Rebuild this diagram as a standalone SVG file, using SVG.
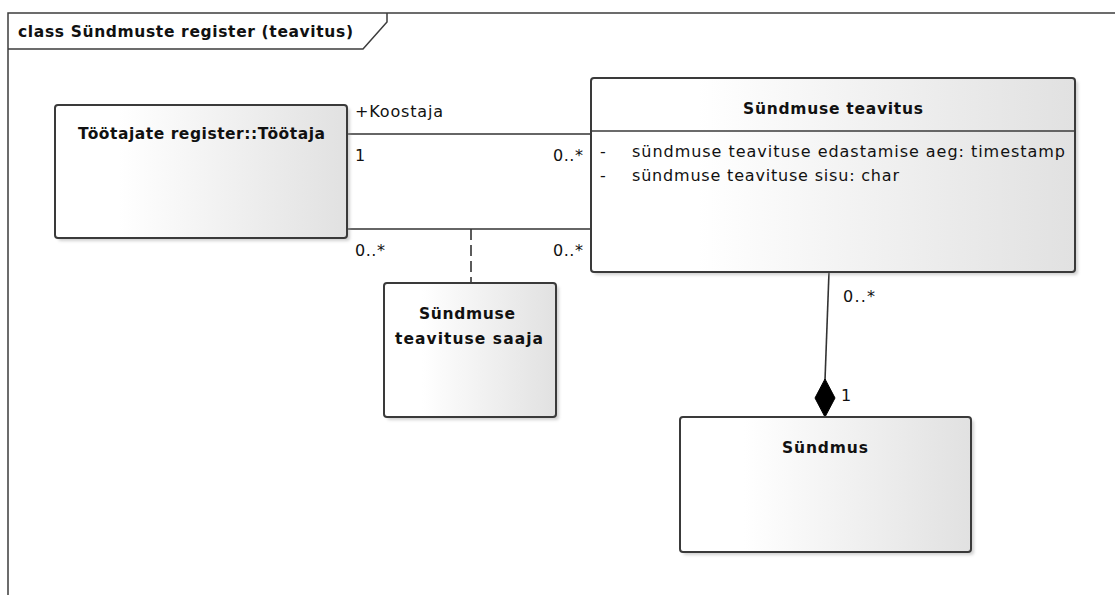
<svg xmlns="http://www.w3.org/2000/svg" width="1115" height="595" viewBox="0 0 1115 595">
  <style>
    .frame { fill: none; stroke: #3c3c3c; stroke-width: 1.5; }
    .box { stroke: #3a3a3a; stroke-width: 2; fill: url(#boxFill); }
    .shadow { fill: #9a9a9a; opacity: 0.45; filter: url(#soft); }
    .sep { stroke: #3a3a3a; stroke-width: 1.5; }
    .conn { fill: none; stroke: #333333; stroke-width: 1.6; }
    .dash { stroke-dasharray: 11 5; }
    .t { font-family: "DejaVu Sans", Verdana, sans-serif; font-size: 16px; fill: #111111; }
    .b { font-weight: bold; font-size: 15.5px; }
  </style>
  <defs>
    <linearGradient id="boxFill" x1="0" y1="0" x2="1" y2="0">
      <stop offset="0" stop-color="#ffffff"/>
      <stop offset="0.22" stop-color="#ffffff"/>
      <stop offset="1" stop-color="#e1e1e1"/>
    </linearGradient>
    <filter id="soft" x="-10%" y="-10%" width="120%" height="120%">
      <feGaussianBlur stdDeviation="1.5"/>
    </filter>
  </defs>

  <rect width="1115" height="595" fill="#ffffff"/>

  <!-- diagram frame with title tab -->
  <g id="frame">
    <path class="frame" d="M8,595 L8,13 L1115,13"/>
    <path class="frame" d="M8,49 L363,49 L387,22 L387,13"/>
    <text class="t b" x="18" y="37" textLength="335" lengthAdjust="spacing">class Sündmuste register (teavitus)</text>
  </g>

  <!-- connectors -->
  <g id="connectors">
    <!-- Koostaja association -->
    <line class="conn" x1="347" y1="134" x2="591" y2="134"/>
    <!-- recipient association -->
    <line class="conn" x1="347" y1="229" x2="591" y2="229"/>
    <!-- association class link -->
    <line class="conn dash" x1="471" y1="229" x2="471" y2="283"/>
    <!-- composition to Sündmus -->
    <line class="conn" x1="829" y1="272" x2="825" y2="380"/>
    <polygon points="825,379 835,398 825,417 815,398" fill="#000000" stroke="#000000" stroke-width="1"/>

    <text class="t" x="355" y="117" textLength="88" lengthAdjust="spacing">+Koostaja</text>
    <text class="t" x="355" y="161">1</text>
    <text class="t" x="553" y="161" textLength="30" lengthAdjust="spacing">0..*</text>
    <text class="t" x="355" y="256" textLength="30" lengthAdjust="spacing">0..*</text>
    <text class="t" x="553" y="256" textLength="30" lengthAdjust="spacing">0..*</text>
    <text class="t" x="843" y="302" textLength="32" lengthAdjust="spacing">0..*</text>
    <text class="t" x="841" y="401">1</text>
  </g>

  <!-- Töötajate register::Töötaja -->
  <g id="tootaja">
    <rect class="shadow" x="58" y="108" width="292" height="133" rx="3"/>
    <rect class="box" x="55" y="105" width="292" height="133" rx="3"/>
    <text class="t b" x="78" y="139" textLength="247" lengthAdjust="spacing">Töötajate register::Töötaja</text>
  </g>

  <!-- Sündmuse teavitus -->
  <g id="teavitus">
    <rect class="shadow" x="594" y="81" width="484" height="194" rx="3"/>
    <rect class="box" x="591" y="78" width="484" height="194" rx="3"/>
    <line class="sep" x1="591" y1="131" x2="1075" y2="131"/>
    <text class="t b" x="743" y="114" textLength="180" lengthAdjust="spacing">Sündmuse teavitus</text>
    <text class="t" x="600" y="157">-</text>
    <text class="t" x="632" y="157" textLength="433" lengthAdjust="spacing">sündmuse teavituse edastamise aeg: timestamp</text>
    <text class="t" x="600" y="181">-</text>
    <text class="t" x="632" y="181" textLength="267" lengthAdjust="spacing">sündmuse teavituse sisu: char</text>
  </g>

  <!-- Sündmuse teavituse saaja -->
  <g id="saaja">
    <rect class="shadow" x="387" y="286" width="172" height="134" rx="3"/>
    <rect class="box" x="384" y="283" width="172" height="134" rx="3"/>
    <text class="t b" x="419" y="319" textLength="96" lengthAdjust="spacing">Sündmuse</text>
    <text class="t b" x="395" y="344" textLength="148" lengthAdjust="spacing">teavituse saaja</text>
  </g>

  <!-- Sündmus -->
  <g id="sundmus">
    <rect class="shadow" x="683" y="420" width="291" height="135" rx="3"/>
    <rect class="box" x="680" y="417" width="291" height="135" rx="3"/>
    <text class="t b" x="782" y="453" textLength="86" lengthAdjust="spacing">Sündmus</text>
  </g>
</svg>
